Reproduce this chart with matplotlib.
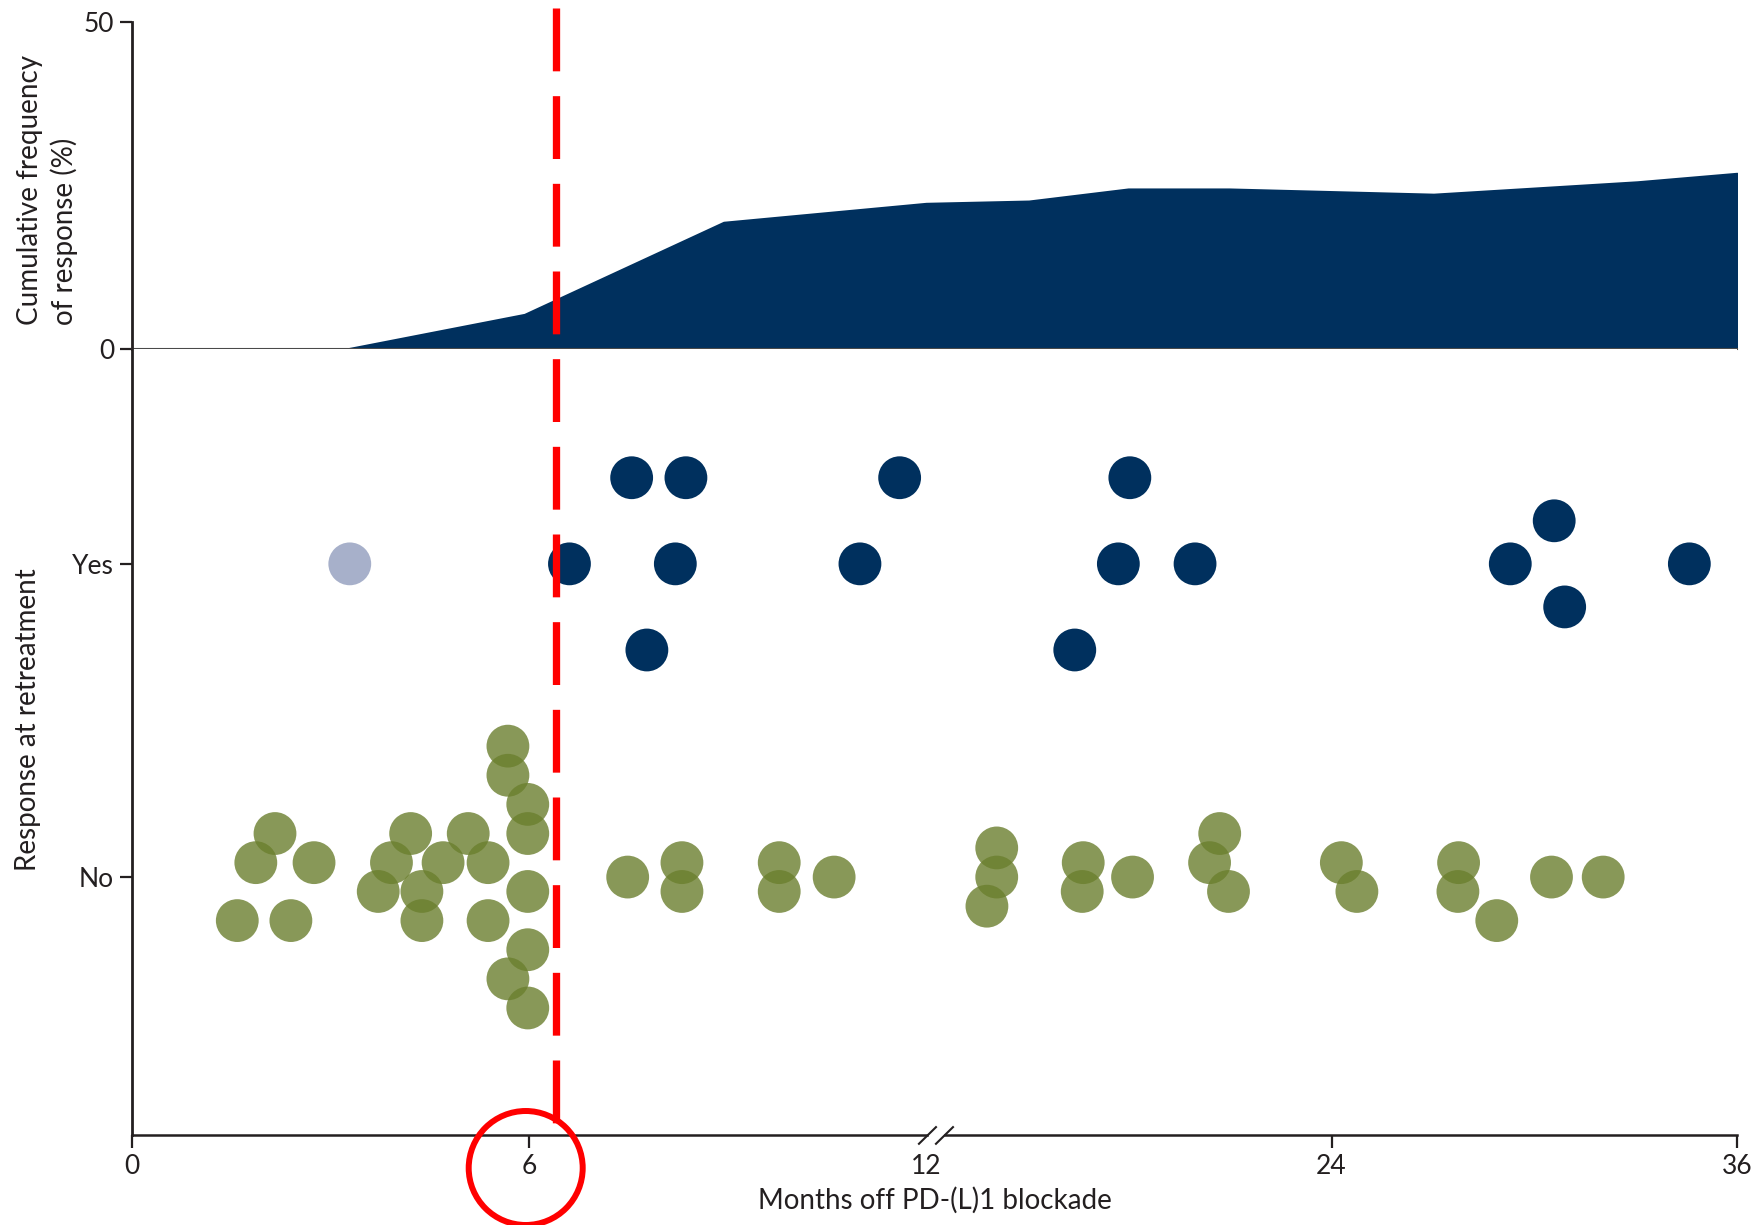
import numpy as np
import matplotlib.pyplot as plt
from matplotlib.lines import Line2D
from matplotlib.patches import Ellipse
from matplotlib.transforms import blended_transform_factory

plt.rcParams['font.family'] = ['Lato', 'DejaVu Sans']

###############################################
##                  data                     ##
###############################################

# cumulative frequency of response (%) vs months off
area_months = [0, 3.24, 5.93, 8.94, 12.0, 15.04, 17.98, 20.97, 27.02, 33.05, 36.0]
area_pct = [0, 0, 5.3, 19.4, 22.3, 22.65, 24.5, 24.5, 23.7, 25.6, 26.9]

# response at retreatment: yes (1) / no (0), with swarm offset
yes_months = [7.55, 8.37, 11.60, 18.03, 30.59, 6.61, 8.21, 11.00, 17.69,
              19.96, 29.29, 34.59, 30.90, 7.78, 16.40]
yes_offset = [0.275, 0.275, 0.275, 0.275, 0.1375, 0, 0, 0, 0,
              0, 0, 0, -0.1375, -0.275, -0.275]

yes_light_months = [3.29]
yes_light_offset = [0]

no_months = [1.59, 2.40, 1.87, 2.16, 2.75, 3.72, 3.92, 4.21, 4.38, 4.38, 4.70,
             5.08, 5.38, 5.38, 5.68, 5.68, 5.98, 5.98, 5.98, 5.98, 5.68, 5.98,
             7.49, 8.31, 8.31, 9.78, 9.78, 10.61, 14.09, 14.09, 13.80, 16.65,
             16.62, 18.11, 20.69, 20.39, 20.95, 24.29, 24.75, 27.76, 27.74,
             28.89, 30.51, 32.04]
no_offset = [-0.139, -0.139, 0.046, 0.139, 0.046, -0.046, 0.046, 0.139, -0.046,
             -0.139, 0.046, 0.139, 0.046, -0.139, 0.418, 0.325, 0.232, 0.139,
             -0.046, -0.232, -0.325, -0.418,
             0, 0.046, -0.046, 0.046, -0.046, 0, 0.093, 0, -0.093, 0.046,
             -0.046, 0, 0.139, 0.046, -0.046, 0.046, -0.046, 0.046, -0.046,
             -0.139, 0, 0]

cutoff_month = 6.4
x_ticks = [0, 6, 12, 24, 36]
y_ticks_top = [0, 50]

navy = '#00305E'
light = '#A7B0CA'
olive = '#6B7F2E'
ink = '#231F20'
red = '#FF0000'

###############################################
##       broken x scale (0-12 | 12-36)       ##
###############################################

k = 0.5106

def fwd(x):
    x = np.asarray(x, dtype=float)
    return np.where(x <= 12, x, 12 + (x - 12) * k)

def inv(u):
    u = np.asarray(u, dtype=float)
    return np.where(u <= 12, u, 12 + (u - 12) / k)

fig = plt.figure(figsize=(17.54, 12.25), dpi=100)
left, width = 0.0753, 0.915
ax_top = fig.add_axes([left, 0.7151, width, 0.2666])
ax = fig.add_axes([left, 0.0731, width, 0.642])

for a in (ax_top, ax):
    a.set_xscale('function', functions=(fwd, inv))
    a.set_xlim(0, 36)
    for s in ('top', 'right'):
        a.spines[s].set_visible(False)
    a.spines['left'].set_linewidth(2)
    a.spines['left'].set_color(ink)
    a.tick_params(colors=ink, labelcolor=ink, labelsize=19, width=1.6,
                  length=9, pad=4)

##  top panel: cumulative frequency
ax_top.fill_between(area_months, area_pct, 0, color=navy, lw=1.5, edgecolor=navy)
ax_top.set_ylim(0, 50)
ax_top.set_yticks(y_ticks_top)
ax_top.set_xticks([])
ax_top.spines['bottom'].set_color('#4A4A4A')
ax_top.spines['bottom'].set_linewidth(1.5)

##  bottom panel: swarm
ms = 950
ax.scatter(no_months, np.array(no_offset), s=ms, color=olive, alpha=0.8,
           edgecolors='none', zorder=3)
ax.scatter(yes_months, 1 + np.array(yes_offset), s=ms, color=navy,
           edgecolors='none', zorder=3)
ax.scatter(yes_light_months, 1 + np.array(yes_light_offset), s=ms, color=light,
           edgecolors='none', zorder=3)

ax.set_ylim(-0.825, 1.686)
ax.set_yticks([1, 0])
ax.set_yticklabels(['Yes', 'No'])
ax.set_xticks(x_ticks)
ax.set_xticklabels([str(t) for t in x_ticks])
ax.xaxis.get_major_ticks()[2].tick1line.set_visible(False)
ax.set_xlabel('Months off PD-(L)1 blockade', fontsize=20, color=ink, labelpad=6)

# bottom spine with a break at 12
ax.spines['bottom'].set_visible(False)
g0, g1 = 0.4951, 0.5065
ax.plot([0, g0], [0, 0], transform=ax.transAxes, color=ink, lw=1.8, clip_on=False)
ax.plot([g1, 1], [0, 0], transform=ax.transAxes, color=ink, lw=1.8, clip_on=False)
dx, dy = 0.0053, 0.0106
for cx in (0.4956, 0.5062):
    ax.plot([cx - dx, cx + dx], [-dy, dy], transform=ax.transAxes, color=ink,
            lw=1.5, clip_on=False)

# y labels
fig.text(47.5 / 1754, 1 - 190 / 1225, 'Cumulative frequency\nof response (%)',
         rotation=90, ha='center', va='center', multialignment='left',
         fontsize=20, color=ink, linespacing=1.3)
fig.text(28 / 1754, 1 - 720 / 1225, 'Response at retreatment', rotation=90,
         ha='center', va='center', fontsize=20, color=ink)

##  red cut-off and highlight circle
tr = blended_transform_factory(ax.transData, fig.transFigure)
cut = Line2D([cutoff_month, cutoff_month], [1 - 8.3 / 1225, 1 - 1126 / 1225],
             transform=tr, color=red, lw=5.26, dashes=(8.6, 3.4), zorder=10)
fig.add_artist(cut)

circ = Ellipse((525.7 / 1754, 1 - 1168 / 1225), width=2 * 57 / 1754,
               height=2 * 57 / 1225, transform=fig.transFigure, fill=False,
               edgecolor=red, lw=4.3, zorder=10)
fig.add_artist(circ)

fig.savefig('out.png', dpi=100)
